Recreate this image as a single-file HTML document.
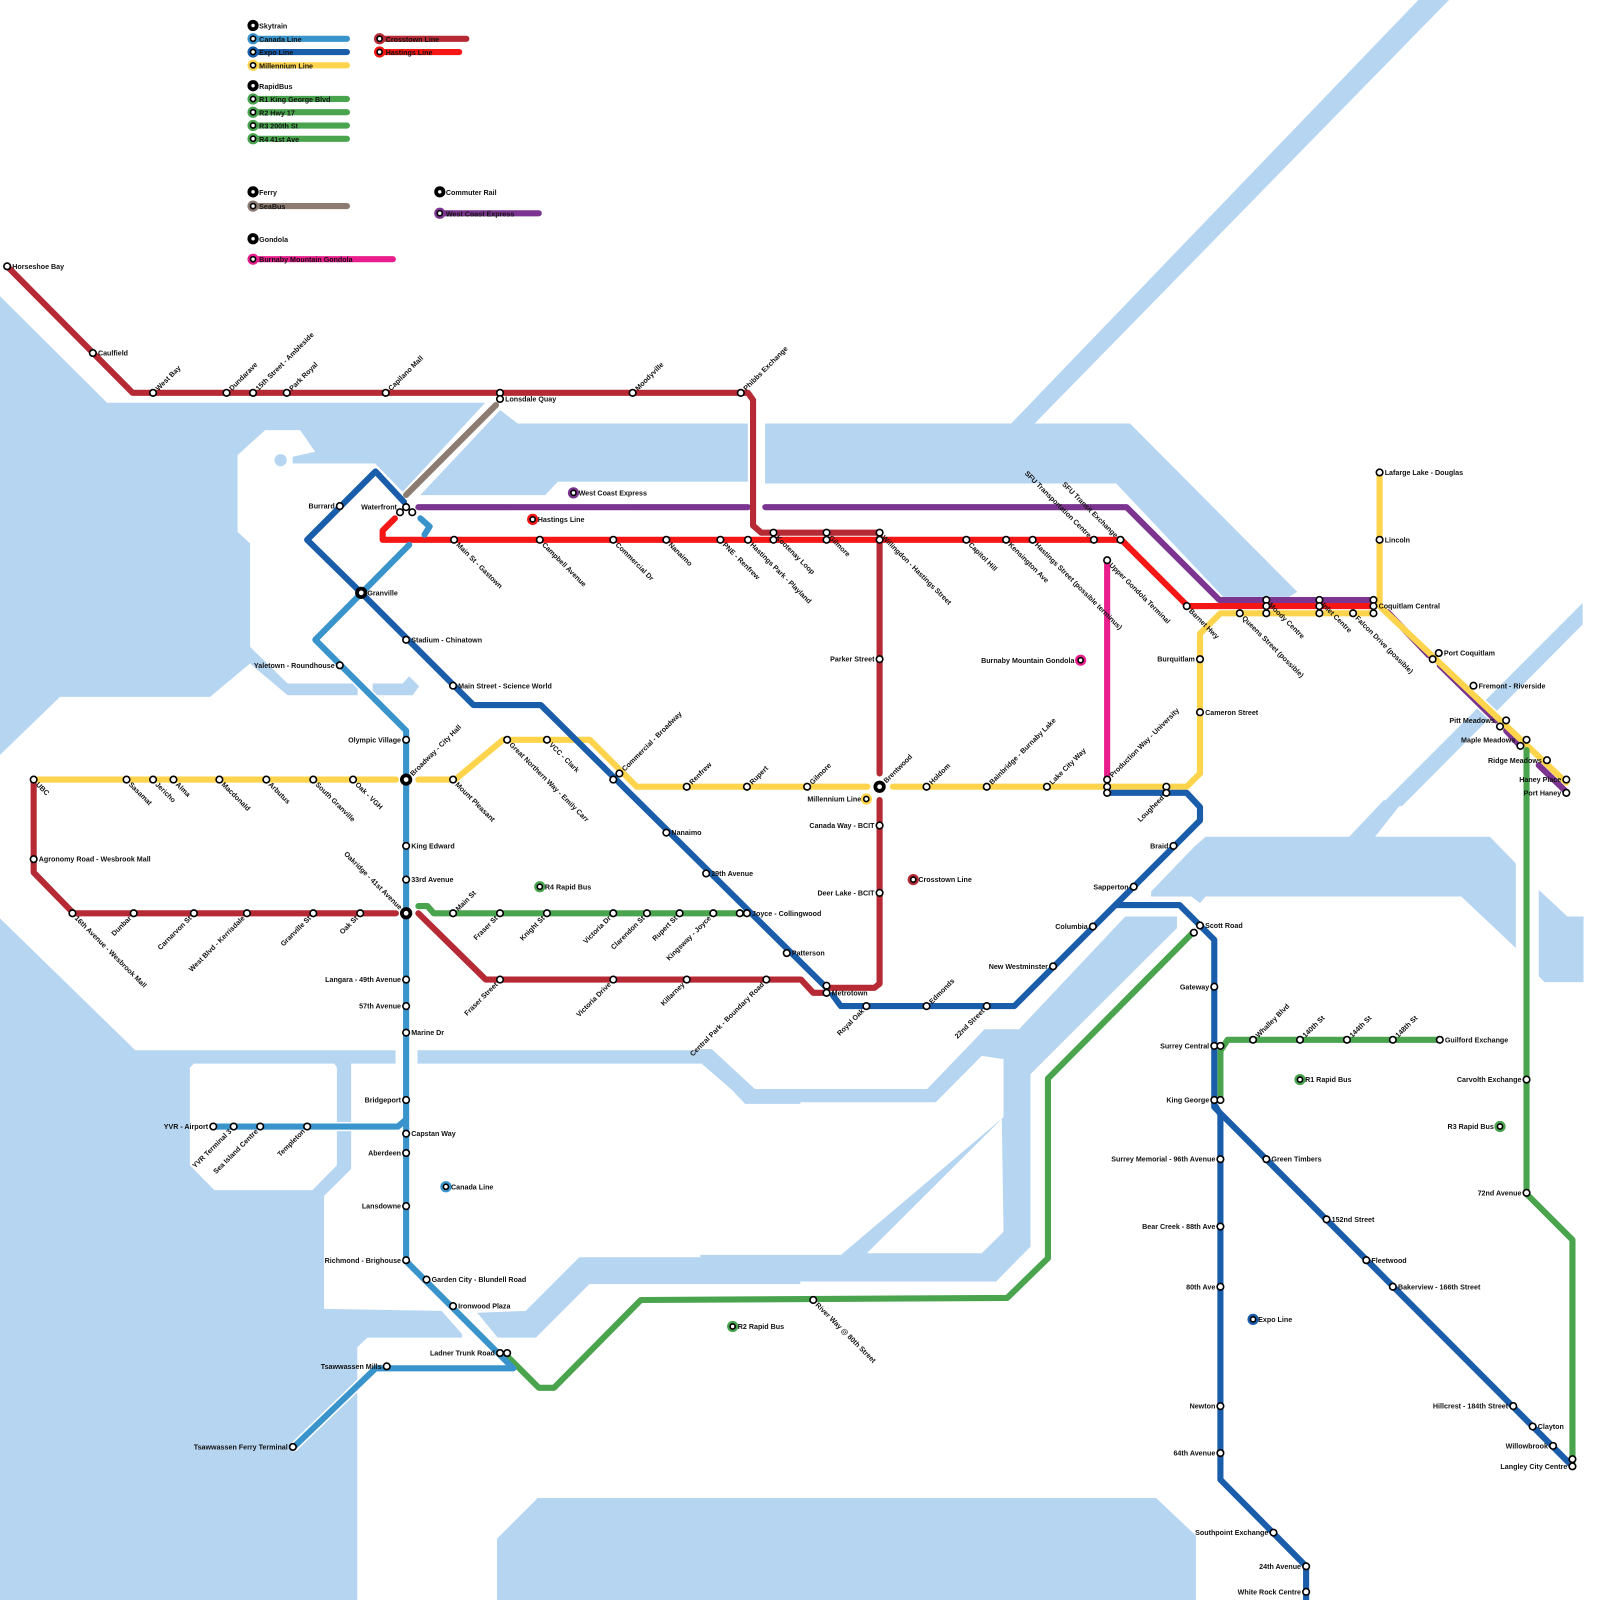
<!DOCTYPE html>
<html><head><meta charset="utf-8"><style>
html,body{margin:0;padding:0;background:#fff}
svg{display:block}
.w{fill:#b6d5f1}
.l{fill:#fff}
.s{fill:#fff;stroke:#000;stroke-width:1.6}
.t{font-family:"Liberation Sans",Arial,sans-serif;font-weight:bold;font-size:7px;fill:#111}
.k{fill:none;stroke:#fff;stroke-width:9;stroke-linejoin:round;stroke-linecap:round}
.ln{fill:none;stroke-width:6;stroke-linejoin:round;stroke-linecap:round}
</style></head><body>
<svg width="1600" height="1600" viewBox="0 0 1568 1568" xmlns="http://www.w3.org/2000/svg">
<!-- WATER -->
<g transform="translate(0,372.5) scale(0.4902,0.3268)">
<polygon class="w" points="0,-252 214,68 970,68 805,335 750,250 585,250 585,230 630,215 600,150 530,150 475,225 475,455 500,490 500,800 575,910 715,910 715,945 575,945 500,850 420,950 120,950 0,1124"/>
<polygon class="w" points="745,910 805,910 818,888 838,918 825,945 745,945"/>
<polygon class="w" points="1000,90 1035,130 1495,130 1495,305 1115,305 1090,345 840,345"/>
</g>
<circle class="w" cx="275" cy="451" r="6"/>
<g transform="translate(725.5,372.5) scale(0.5378,0.3268)">
<polygon class="w" points="45,130 710,130 1015,635 1000,650 880,650 685,310 45,310"/>
</g>
<polygon class="w" points="990,416 1390,0 1420,0 1013,416"/>
<polygon class="w" points="1551,591 1551,612 1374,790 1352,790"/>
<g transform="translate(686.3,784.3) scale(0.5628,0.3252)">
<polygon class="w" points="860,140 880,110 1130,110 1190,0 1225,0 1175,110 1375,110 1420,190 1420,445 1325,290 880,290 870,310 855,290 785,290 785,275"/>
<polygon class="w" points="1460,270 1510,350 1538,350 1538,548 1470,548 1460,530"/>
<polygon class="w" points="0,750 20,750 95,870 395,870 495,690 555,690 740,350 830,350 830,385 575,825 575,1345 515,1450 0,1450"/>
<polygon class="l" points="-30,790 0,790 80,910 410,910 490,770 528,780 528,955 245,1370 -30,1370"/>
<polygon class="l" points="290,1365 525,960 528,1300 490,1365"/>
</g>
<g transform="translate(0,980.4) scale(0.5002,0.3756)">
<polygon class="w" points="0,-214 265,130 775,130 775,165 688,165 688,440 635,510 635,805 865,810 905,870 905,880 720,880 700,905 700,1600 0,1600"/>
<polygon class="l" points="372,175 380,165 655,165 660,175 660,430 612,495 420,495 372,430"/>
<polygon class="w" points="818,130 1385,130 1475,235 1568,235 1568,270 1460,270 1385,165 818,165"/>
<polygon class="w" points="935,815 1030,810 1135,670 1568,670 1568,740 1155,740 1050,880 975,880"/>
</g>
<polygon class="w" points="527,1468 1133,1468 1172,1505 1172,1568 487,1568 487,1508"/>

<!-- LINES casing -->
<g class="k">
<path d="M398,485 L486,397"/>
<path d="M7,261 L130,385 L733,385 L738,392 L738,515 L746,522 L862,522 L862,758"/>
<path d="M396,492 L368,462 L301,529 L354,581 L464,691 L530,691 L810,968"/>
<path d="M401,534 L309,627 L398,716 L398,1236 L503,1341 L368,1341 L288,1418"/>
<path d="M209,1104 L390,1104 L398,1097"/>
<path d="M1169,914 L1027,1057 L1027,1233 L987,1272 L628,1274 L543,1360 L528,1360 L498,1330"/>
<path d="M1360,600 L1400,642 M1411,652 L1466,706 M1476,716 L1489,730 M1508,750 L1535,776"/>
<path d="M1352,463 L1352,594 L1535,767"/>
</g>
<!-- LINES -->
<path class="ln" stroke="#8b7b70" d="M398,485 L486,397"/>
<path class="ln" stroke="#e91e8c" d="M1085,549 L1085,764"/>
<g class="ln" stroke="#7b3590">
<path d="M410,497 L733,497"/>
<path d="M750,497 L1104,497 L1195,588 L1346,588"/>
<path d="M1360,600 L1400,642 M1411,652 L1466,706 M1476,716 L1489,730 M1508,750 L1535,776"/>
</g>
<g class="ln" stroke="#b52a35">
<path d="M7,261 L130,385 L733,385 L738,392 L738,515 L746,522 L862,522 L862,758"/>
<path d="M862,784 L862,964 L857,968 L814,968"/>
<path d="M33,764 L33,855 L72,895 L388,895"/>
<path d="M410,895 L476,960 L785,960 L797,973 L808,973"/>
</g>
<path class="ln" stroke="#f51616" d="M387,508 L375,520 L375,529 L1099,529 L1164,594 L1346,594"/>
<g class="ln" stroke="#fdd44c">
<path d="M33,764 L388,764"/>
<path d="M410,764 L446,764 L493,725 L578,725 L613,760 L624,771 L850,771"/>
<path d="M875,771 L1163,771 L1176,758 L1176,621 L1196,601 L1346,601"/>
<path d="M1352,463 L1352,594 L1535,767"/>
</g>
<g class="ln" stroke="#4aa44e">
<path d="M410,888 L419,888 L425,895 L732,895"/>
<path d="M1196,1074 L1196,1030 L1203,1019 L1411,1019"/>
<path d="M1169,914 L1027,1057 L1027,1233 L987,1272 L628,1274 L543,1360 L528,1360 L498,1330"/>
<path d="M1496,735 L1496,1170 L1541,1215 L1541,1433"/>
</g>
<g class="ln" stroke="#3a94cc">
<path d="M412,508 L421,516 L416,524"/>
<path d="M401,534 L309,627 L398,716 L398,1236 L503,1341 L368,1341 L288,1418"/>
<path d="M209,1104 L390,1104 L398,1097"/>
</g>
<g class="ln" stroke="#1a5daa">
<path d="M396,492 L368,462 L301,529 L354,581 L464,691 L530,691 L810,968"/>
<path d="M816,975 L824,986 L994,986 L1093,887 L1176,804 L1176,791 L1163,777 L1085,777"/>
<path d="M1093,887 L1156,887 L1176,907 L1190,921 L1190,1085 L1541,1437"/>
<path d="M1190,1082 L1196,1092 L1196,1450 L1280,1535 L1280,1568"/>
</g>

<!-- LEGEND -->
<g>
<rect x="248" y="35" width="95" height="6" rx="3" fill="#3a94cc"/>
<rect x="248" y="48" width="95" height="6" rx="3" fill="#1a5daa"/>
<rect x="248" y="61" width="95" height="6" rx="3" fill="#fdd44c"/>
<rect x="248" y="94" width="95" height="6" rx="3" fill="#4aa44e"/>
<rect x="248" y="107" width="95" height="6" rx="3" fill="#4aa44e"/>
<rect x="248" y="120" width="95" height="6" rx="3" fill="#4aa44e"/>
<rect x="248" y="133" width="95" height="6" rx="3" fill="#4aa44e"/>
<rect x="248" y="199" width="95" height="6" rx="3" fill="#8b7b70"/>
<rect x="248" y="251" width="140" height="6" rx="3" fill="#e91e8c"/>
<rect x="372" y="35" width="88" height="6" rx="3" fill="#b52a35"/>
<rect x="372" y="48" width="81" height="6" rx="3" fill="#f51616"/>
<rect x="431" y="206" width="100" height="6" rx="3" fill="#7b3590"/>
</g>
<g>
<circle cx="248" cy="25" r="5.5" fill="#000"/>
<circle cx="248" cy="84" r="5.5" fill="#000"/>
<circle cx="248" cy="188" r="5.5" fill="#000"/>
<circle cx="248" cy="234" r="5.5" fill="#000"/>
<circle cx="431" cy="188" r="5.5" fill="#000"/>
<circle cx="248" cy="38" r="5.5" fill="#3a94cc"/>
<circle cx="248" cy="51" r="5.5" fill="#1a5daa"/>
<circle cx="248" cy="64" r="5.5" fill="#fdd44c"/>
<circle cx="248" cy="97" r="5.5" fill="#4aa44e"/>
<circle cx="248" cy="110" r="5.5" fill="#4aa44e"/>
<circle cx="248" cy="123" r="5.5" fill="#4aa44e"/>
<circle cx="248" cy="136" r="5.5" fill="#4aa44e"/>
<circle cx="248" cy="202" r="5.5" fill="#8b7b70"/>
<circle cx="248" cy="254" r="5.5" fill="#e91e8c"/>
<circle cx="372" cy="38" r="5.5" fill="#b52a35"/>
<circle cx="372" cy="51" r="5.5" fill="#f51616"/>
<circle cx="431" cy="209" r="5.5" fill="#7b3590"/>
<circle cx="562" cy="483" r="5.5" fill="#7b3590"/>
<circle cx="522" cy="509" r="5.5" fill="#f51616"/>
<circle cx="895" cy="862" r="5.5" fill="#b52a35"/>
<circle cx="529" cy="869" r="5.5" fill="#4aa44e"/>
<circle cx="1274" cy="1058" r="5.5" fill="#4aa44e"/>
<circle cx="718" cy="1300" r="5.5" fill="#4aa44e"/>
<circle cx="1470" cy="1104" r="5.5" fill="#4aa44e"/>
<circle cx="437" cy="1163" r="5.5" fill="#3a94cc"/>
<circle cx="1228" cy="1293" r="5.5" fill="#1a5daa"/>
<circle cx="849" cy="783" r="5.5" fill="#fdd44c"/>
<circle cx="1059" cy="647" r="5.5" fill="#e91e8c"/>
</g>
<g class="s">
<circle cx="248" cy="25" r="2.5"/><circle cx="248" cy="84" r="2.5"/><circle cx="248" cy="188" r="2.5"/><circle cx="248" cy="234" r="2.5"/><circle cx="431" cy="188" r="2.5"/>
<circle cx="248" cy="38" r="2.5"/><circle cx="248" cy="51" r="2.5"/><circle cx="248" cy="64" r="2.5"/><circle cx="248" cy="97" r="2.5"/><circle cx="248" cy="110" r="2.5"/><circle cx="248" cy="123" r="2.5"/><circle cx="248" cy="136" r="2.5"/><circle cx="248" cy="202" r="2.5"/><circle cx="248" cy="254" r="2.5"/><circle cx="372" cy="38" r="2.5"/><circle cx="372" cy="51" r="2.5"/><circle cx="431" cy="209" r="2.5"/>
<circle cx="562" cy="483" r="2.5"/><circle cx="522" cy="509" r="2.5"/><circle cx="895" cy="862" r="2.5"/><circle cx="529" cy="869" r="2.5"/><circle cx="1274" cy="1058" r="2.5"/><circle cx="718" cy="1300" r="2.5"/><circle cx="1470" cy="1104" r="2.5"/><circle cx="437" cy="1163" r="2.5"/><circle cx="1228" cy="1293" r="2.5"/><circle cx="849" cy="783" r="2.5"/><circle cx="1059" cy="647" r="2.5"/>
</g>
<g class="t">
<text x="254" y="28">Skytrain</text>
<text x="254" y="41">Canada Line</text>
<text x="254" y="54">Expo Line</text>
<text x="254" y="67">Millennium Line</text>
<text x="254" y="87">RapidBus</text>
<text x="254" y="100">R1 King George Blvd</text>
<text x="254" y="113">R2 Hwy 17</text>
<text x="254" y="126">R3 200th St</text>
<text x="254" y="139">R4 41st Ave</text>
<text x="254" y="191">Ferry</text>
<text x="254" y="205">SeaBus</text>
<text x="254" y="237">Gondola</text>
<text x="254" y="257">Burnaby Mountain Gondola</text>
<text x="378" y="41">Crosstown Line</text>
<text x="378" y="54">Hastings Line</text>
<text x="437" y="191">Commuter Rail</text>
<text x="437" y="212">West Coast Express</text>
</g>

<!-- STATIONS -->
<g class="s">
<circle cx="7" cy="261" r="3.2"/><circle cx="91" cy="346" r="3.2"/><circle cx="150" cy="385" r="3.2"/><circle cx="222" cy="385" r="3.2"/><circle cx="248" cy="385" r="3.2"/><circle cx="281" cy="385" r="3.2"/><circle cx="378" cy="385" r="3.2"/><circle cx="490" cy="385" r="3.2"/><circle cx="490" cy="391" r="3.2"/><circle cx="620" cy="385" r="3.2"/><circle cx="726" cy="385" r="3.2"/>
<circle cx="758" cy="522" r="3.2"/><circle cx="758" cy="529" r="3.2"/><circle cx="810" cy="522" r="3.2"/><circle cx="810" cy="529" r="3.2"/><circle cx="862" cy="522" r="3.2"/><circle cx="862" cy="529" r="3.2"/>
<circle cx="862" cy="646" r="3.2"/><circle cx="862" cy="809" r="3.2"/><circle cx="862" cy="875" r="3.2"/><circle cx="810" cy="966" r="3.2"/><circle cx="810" cy="973" r="3.2"/>
<circle cx="33" cy="764" r="3.2"/><circle cx="33" cy="842" r="3.2"/><circle cx="71" cy="895" r="3.2"/><circle cx="131" cy="895" r="3.2"/><circle cx="190" cy="895" r="3.2"/><circle cx="242" cy="895" r="3.2"/><circle cx="307" cy="895" r="3.2"/><circle cx="353" cy="895" r="3.2"/>
<circle cx="490" cy="960" r="3.2"/><circle cx="601" cy="960" r="3.2"/><circle cx="673" cy="960" r="3.2"/><circle cx="751" cy="960" r="3.2"/>
<circle cx="398" cy="497" r="3.2"/><circle cx="392" cy="502" r="3.2"/><circle cx="404" cy="502" r="3.2"/><circle cx="333" cy="496" r="3.2"/>
<circle cx="445" cy="529" r="3.2"/><circle cx="529" cy="529" r="3.2"/><circle cx="601" cy="529" r="3.2"/><circle cx="653" cy="529" r="3.2"/><circle cx="706" cy="529" r="3.2"/><circle cx="733" cy="529" r="3.2"/><circle cx="947" cy="529" r="3.2"/><circle cx="986" cy="529" r="3.2"/><circle cx="1012" cy="529" r="3.2"/><circle cx="1072" cy="529" r="3.2"/><circle cx="1098" cy="529" r="3.2"/><circle cx="1163" cy="594" r="3.2"/>
<circle cx="1241" cy="588" r="3.2"/><circle cx="1241" cy="594" r="3.2"/><circle cx="1241" cy="601" r="3.2"/><circle cx="1293" cy="588" r="3.2"/><circle cx="1293" cy="594" r="3.2"/><circle cx="1293" cy="601" r="3.2"/><circle cx="1346" cy="588" r="3.2"/><circle cx="1346" cy="594" r="3.2"/><circle cx="1346" cy="601" r="3.2"/><circle cx="1215" cy="601" r="3.2"/><circle cx="1326" cy="601" r="3.2"/>
<circle cx="1352" cy="463" r="3.2"/><circle cx="1352" cy="529" r="3.2"/><circle cx="1410" cy="640" r="3.2"/><circle cx="1404" cy="646" r="3.2"/><circle cx="1444" cy="672" r="3.2"/><circle cx="1476" cy="706" r="3.2"/><circle cx="1470" cy="712" r="3.2"/><circle cx="1496" cy="725" r="3.2"/><circle cx="1490" cy="731" r="3.2"/><circle cx="1516" cy="745" r="3.2"/><circle cx="1535" cy="764" r="3.2"/><circle cx="1535" cy="777" r="3.2"/>
<circle cx="1176" cy="646" r="3.2"/><circle cx="1176" cy="698" r="3.2"/><circle cx="1085" cy="549" r="3.2"/>
<circle cx="124" cy="764" r="3.2"/><circle cx="150" cy="764" r="3.2"/><circle cx="170" cy="764" r="3.2"/><circle cx="215" cy="764" r="3.2"/><circle cx="261" cy="764" r="3.2"/><circle cx="307" cy="764" r="3.2"/><circle cx="346" cy="764" r="3.2"/><circle cx="444" cy="764" r="3.2"/><circle cx="497" cy="725" r="3.2"/><circle cx="536" cy="725" r="3.2"/><circle cx="601" cy="764" r="3.2"/><circle cx="607" cy="758" r="3.2"/>
<circle cx="673" cy="771" r="3.2"/><circle cx="732" cy="771" r="3.2"/><circle cx="791" cy="771" r="3.2"/><circle cx="908" cy="771" r="3.2"/><circle cx="967" cy="771" r="3.2"/><circle cx="1026" cy="771" r="3.2"/><circle cx="1085" cy="764" r="3.2"/><circle cx="1085" cy="771" r="3.2"/><circle cx="1085" cy="777" r="3.2"/><circle cx="1143" cy="771" r="3.2"/><circle cx="1143" cy="777" r="3.2"/>
<circle cx="398" cy="627" r="3.2"/><circle cx="444" cy="672" r="3.2"/><circle cx="653" cy="816" r="3.2"/><circle cx="692" cy="856" r="3.2"/><circle cx="725" cy="895" r="3.2"/><circle cx="732" cy="895" r="3.2"/><circle cx="771" cy="934" r="3.2"/>
<circle cx="849" cy="986" r="3.2"/><circle cx="908" cy="986" r="3.2"/><circle cx="967" cy="986" r="3.2"/><circle cx="1032" cy="947" r="3.2"/><circle cx="1071" cy="908" r="3.2"/><circle cx="1111" cy="869" r="3.2"/><circle cx="1150" cy="829" r="3.2"/>
<circle cx="1176" cy="907" r="3.2"/><circle cx="1170" cy="914" r="3.2"/><circle cx="1190" cy="967" r="3.2"/><circle cx="1190" cy="1025" r="3.2"/><circle cx="1196" cy="1025" r="3.2"/><circle cx="1190" cy="1078" r="3.2"/><circle cx="1196" cy="1078" r="3.2"/>
<circle cx="1196" cy="1136" r="3.2"/><circle cx="1196" cy="1202" r="3.2"/><circle cx="1196" cy="1261" r="3.2"/><circle cx="1196" cy="1378" r="3.2"/><circle cx="1196" cy="1424" r="3.2"/><circle cx="1248" cy="1502" r="3.2"/><circle cx="1280" cy="1535" r="3.2"/><circle cx="1280" cy="1560" r="3.2"/>
<circle cx="1241" cy="1136" r="3.2"/><circle cx="1300" cy="1195" r="3.2"/><circle cx="1339" cy="1235" r="3.2"/><circle cx="1365" cy="1261" r="3.2"/><circle cx="1483" cy="1378" r="3.2"/><circle cx="1502" cy="1398" r="3.2"/><circle cx="1522" cy="1417" r="3.2"/><circle cx="1541" cy="1437" r="3.2"/><circle cx="1541" cy="1430" r="3.2"/>
<circle cx="1228" cy="1019" r="3.2"/><circle cx="1274" cy="1019" r="3.2"/><circle cx="1320" cy="1019" r="3.2"/><circle cx="1365" cy="1019" r="3.2"/><circle cx="1411" cy="1019" r="3.2"/><circle cx="1496" cy="1058" r="3.2"/><circle cx="1496" cy="1169" r="3.2"/>
<circle cx="444" cy="895" r="3.2"/><circle cx="490" cy="895" r="3.2"/><circle cx="536" cy="895" r="3.2"/><circle cx="601" cy="895" r="3.2"/><circle cx="634" cy="895" r="3.2"/><circle cx="666" cy="895" r="3.2"/><circle cx="699" cy="895" r="3.2"/>
<circle cx="333" cy="652" r="3.2"/><circle cx="398" cy="725" r="3.2"/><circle cx="398" cy="829" r="3.2"/><circle cx="398" cy="862" r="3.2"/><circle cx="398" cy="960" r="3.2"/><circle cx="398" cy="986" r="3.2"/><circle cx="398" cy="1012" r="3.2"/><circle cx="398" cy="1078" r="3.2"/><circle cx="398" cy="1111" r="3.2"/><circle cx="398" cy="1130" r="3.2"/><circle cx="398" cy="1182" r="3.2"/><circle cx="398" cy="1235" r="3.2"/><circle cx="418" cy="1254" r="3.2"/><circle cx="444" cy="1280" r="3.2"/><circle cx="490" cy="1326" r="3.2"/><circle cx="497" cy="1326" r="3.2"/><circle cx="379" cy="1339" r="3.2"/><circle cx="287" cy="1418" r="3.2"/>
<circle cx="209" cy="1104" r="3.2"/><circle cx="229" cy="1104" r="3.2"/><circle cx="255" cy="1104" r="3.2"/><circle cx="301" cy="1104" r="3.2"/><circle cx="797" cy="1274" r="3.2"/>
</g>
<g>
<circle cx="354" cy="581" r="6" fill="#000"/><circle cx="398" cy="764" r="6" fill="#000"/><circle cx="398" cy="895" r="6" fill="#000"/><circle cx="862" cy="771" r="6" fill="#000"/>
<circle cx="354" cy="581" r="2.3" fill="#fff"/><circle cx="398" cy="764" r="2.3" fill="#fff"/><circle cx="398" cy="895" r="2.3" fill="#fff"/><circle cx="862" cy="771" r="2.3" fill="#fff"/>
</g>

<!-- LABELS right -->
<g class="t">
<text x="12" y="263.5">Horseshoe Bay</text>
<text x="96" y="348.5">Caulfield</text>
<text x="495" y="393.5">Lonsdale Quay</text>
<text x="403" y="629.5">Stadium - Chinatown</text>
<text x="449" y="674.5">Main Street - Science World</text>
<text x="360" y="583.5">Granville</text>
<text x="737" y="897.5">Joyce - Collingwood</text>
<text x="776" y="936.5">Patterson</text>
<text x="815" y="975.5">Metrotown</text>
<text x="1181" y="909.5">Scott Road</text>
<text x="1357" y="465.5">Lafarge Lake - Douglas</text>
<text x="1357" y="531.5">Lincoln</text>
<text x="1351" y="596.5">Coquitlam Central</text>
<text x="1415" y="642.5">Port Coquitlam</text>
<text x="1449" y="674.5">Fremont - Riverside</text>
<text x="1416" y="1021.5">Guilford Exchange</text>
<text x="1246" y="1138.5">Green Timbers</text>
<text x="1305" y="1197.5">152nd Street</text>
<text x="1344" y="1237.5">Fleetwood</text>
<text x="1370" y="1263.5">Bakerview - 166th Street</text>
<text x="1507" y="1400.5">Clayton</text>
<text x="403" y="831.5">King Edward</text>
<text x="403" y="864.5">33rd Avenue</text>
<text x="403" y="1014.5">Marine Dr</text>
<text x="403" y="1113.5">Capstan Way</text>
<text x="423" y="1256.5">Garden City - Blundell Road</text>
<text x="449" y="1282.5">Ironwood Plaza</text>
<text x="38" y="844.5">Agronomy Road - Wesbrook Mall</text>
<text x="1181" y="700.5">Cameron Street</text>
<text x="658" y="818.5">Nanaimo</text>
<text x="697" y="858.5">29th Avenue</text>
<text x="567" y="485.5">West Coast Express</text>
<text x="527" y="511.5">Hastings Line</text>
<text x="900" y="864.5">Crosstown Line</text>
<text x="534" y="871.5">R4 Rapid Bus</text>
<text x="1279" y="1060.5">R1 Rapid Bus</text>
<text x="723" y="1302.5">R2 Rapid Bus</text>
<text x="442" y="1165.5">Canada Line</text>
<text x="1233" y="1295.5">Expo Line</text>
</g>
<!-- LABELS left -->
<g class="t" text-anchor="end">
<text x="328" y="498.5">Burrard</text>
<text x="389" y="499.5">Waterfront</text>
<text x="328" y="654.5">Yaletown - Roundhouse</text>
<text x="393" y="727.5">Olympic Village</text>
<text x="393" y="962.5">Langara - 49th Avenue</text>
<text x="393" y="988.5">57th Avenue</text>
<text x="393" y="1080.5">Bridgeport</text>
<text x="393" y="1132.5">Aberdeen</text>
<text x="393" y="1184.5">Lansdowne</text>
<text x="393" y="1237.5">Richmond - Brighouse</text>
<text x="204" y="1106.5">YVR - Airport</text>
<text x="485" y="1328.5">Ladner Trunk Road</text>
<text x="374" y="1341.5">Tsawwassen Mills</text>
<text x="282" y="1420.5">Tsawwassen Ferry Terminal</text>
<text x="857" y="648.5">Parker Street</text>
<text x="857" y="811.5">Canada Way - BCIT</text>
<text x="857" y="877.5">Deer Lake - BCIT</text>
<text x="844" y="785.5">Millennium Line</text>
<text x="1053" y="649.5">Burnaby Mountain Gondola</text>
<text x="1171" y="648.5">Burquitlam</text>
<text x="1145" y="831.5">Braid</text>
<text x="1106" y="871.5">Sapperton</text>
<text x="1066" y="910.5">Columbia</text>
<text x="1027" y="949.5">New Westminster</text>
<text x="1185" y="969.5">Gateway</text>
<text x="1185" y="1027.5">Surrey Central</text>
<text x="1185" y="1080.5">King George</text>
<text x="1191" y="1138.5">Surrey Memorial - 96th Avenue</text>
<text x="1191" y="1204.5">Bear Creek - 88th Ave</text>
<text x="1191" y="1263.5">80th Ave</text>
<text x="1191" y="1380.5">Newton</text>
<text x="1191" y="1426.5">64th Avenue</text>
<text x="1243" y="1504.5">Southpoint Exchange</text>
<text x="1275" y="1537.5">24th Avenue</text>
<text x="1275" y="1562.5">White Rock Centre</text>
<text x="1478" y="1380.5">Hillcrest - 184th Street</text>
<text x="1517" y="1419.5">Willowbrook</text>
<text x="1536" y="1439.5">Langley City Centre</text>
<text x="1491" y="1060.5">Carvolth Exchange</text>
<text x="1491" y="1171.5">72nd Avenue</text>
<text x="1464" y="1106.5">R3 Rapid Bus</text>
<text x="1465" y="708.5">Pitt Meadows</text>
<text x="1485" y="727.5">Maple Meadows</text>
<text x="1511" y="747.5">Ridge Meadows</text>
<text x="1530" y="766.5">Haney Place</text>
<text x="1530" y="779.5">Port Haney</text>
</g>
<!-- rotated -45 start -->
<g class="t">
<text transform="translate(150,385) rotate(-45)" x="5" y="2.5">West Bay</text>
<text transform="translate(222,385) rotate(-45)" x="5" y="2.5">Dundarave</text>
<text transform="translate(248,385) rotate(-45)" x="5" y="2.5">15th Street - Ambleside</text>
<text transform="translate(281,385) rotate(-45)" x="5" y="2.5">Park Royal</text>
<text transform="translate(378,385) rotate(-45)" x="5" y="2.5">Capilano Mall</text>
<text transform="translate(620,385) rotate(-45)" x="5" y="2.5">Moodyville</text>
<text transform="translate(726,385) rotate(-45)" x="5" y="2.5">Phibbs Exchange</text>
<text transform="translate(398,764) rotate(-45)" x="7" y="2.5">Broadway - City Hall</text>
<text transform="translate(607,758) rotate(-45)" x="5" y="2.5">Commercial - Broadway</text>
<text transform="translate(673,771) rotate(-45)" x="5" y="2.5">Renfrew</text>
<text transform="translate(732,771) rotate(-45)" x="5" y="2.5">Rupert</text>
<text transform="translate(791,771) rotate(-45)" x="5" y="2.5">Gilmore</text>
<text transform="translate(862,771) rotate(-45)" x="7" y="2.5">Brentwood</text>
<text transform="translate(908,771) rotate(-45)" x="5" y="2.5">Holdom</text>
<text transform="translate(967,771) rotate(-45)" x="5" y="2.5">Bainbridge - Burnaby Lake</text>
<text transform="translate(1026,771) rotate(-45)" x="5" y="2.5">Lake City Way</text>
<text transform="translate(1085,764) rotate(-45)" x="5" y="2.5">Production Way - University</text>
<text transform="translate(444,895) rotate(-45)" x="5" y="2.5">Main St</text>
<text transform="translate(908,986) rotate(-45)" x="5" y="2.5">Edmonds</text>
<text transform="translate(1228,1019) rotate(-45)" x="5" y="2.5">Whalley Blvd</text>
<text transform="translate(1274,1019) rotate(-45)" x="5" y="2.5">140th St</text>
<text transform="translate(1320,1019) rotate(-45)" x="5" y="2.5">144th St</text>
<text transform="translate(1365,1019) rotate(-45)" x="5" y="2.5">148th St</text>
</g>
<!-- rotated -45 end -->
<g class="t" text-anchor="end">
<text transform="translate(131,895) rotate(-45)" x="-5" y="2.5">Dunbar</text>
<text transform="translate(190,895) rotate(-45)" x="-5" y="2.5">Carnarvon St</text>
<text transform="translate(242,895) rotate(-45)" x="-5" y="2.5">West Blvd - Kerrisdale</text>
<text transform="translate(307,895) rotate(-45)" x="-5" y="2.5">Granville St</text>
<text transform="translate(353,895) rotate(-45)" x="-5" y="2.5">Oak St</text>
<text transform="translate(490,895) rotate(-45)" x="-5" y="2.5">Fraser St</text>
<text transform="translate(536,895) rotate(-45)" x="-5" y="2.5">Knight St</text>
<text transform="translate(601,895) rotate(-45)" x="-5" y="2.5">Victoria Dr</text>
<text transform="translate(634,895) rotate(-45)" x="-5" y="2.5">Clarendon St</text>
<text transform="translate(666,895) rotate(-45)" x="-5" y="2.5">Rupert St</text>
<text transform="translate(699,895) rotate(-45)" x="-5" y="2.5">Kingsway - Joyce</text>
<text transform="translate(490,960) rotate(-45)" x="-5" y="2.5">Fraser Street</text>
<text transform="translate(601,960) rotate(-45)" x="-5" y="2.5">Victoria Drive</text>
<text transform="translate(673,960) rotate(-45)" x="-5" y="2.5">Killarney</text>
<text transform="translate(751,960) rotate(-45)" x="-5" y="2.5">Central Park - Boundary Road</text>
<text transform="translate(849,986) rotate(-45)" x="-5" y="2.5">Royal Oak</text>
<text transform="translate(967,986) rotate(-45)" x="-5" y="2.5">22nd Street</text>
<text transform="translate(229,1104) rotate(-45)" x="-5" y="2.5">YVR Terminal 3</text>
<text transform="translate(255,1104) rotate(-45)" x="-5" y="2.5">Sea Island Centre</text>
<text transform="translate(301,1104) rotate(-45)" x="-5" y="2.5">Templeton</text>
<text transform="translate(1143,777) rotate(-45)" x="-5" y="2.5">Lougheed</text>
</g>
<!-- rotated +45 start -->
<g class="t">
<text transform="translate(33,764) rotate(45)" x="5" y="2.5">UBC</text>
<text transform="translate(124,764) rotate(45)" x="5" y="2.5">Sasamat</text>
<text transform="translate(150,764) rotate(45)" x="5" y="2.5">Jericho</text>
<text transform="translate(170,764) rotate(45)" x="5" y="2.5">Alma</text>
<text transform="translate(215,764) rotate(45)" x="5" y="2.5">Macdonald</text>
<text transform="translate(261,764) rotate(45)" x="5" y="2.5">Arbutus</text>
<text transform="translate(307,764) rotate(45)" x="5" y="2.5">South Granville</text>
<text transform="translate(346,764) rotate(45)" x="5" y="2.5">Oak - VGH</text>
<text transform="translate(444,764) rotate(45)" x="5" y="2.5">Mount Pleasant</text>
<text transform="translate(497,725) rotate(45)" x="5" y="2.5">Great Northern Way - Emily Carr</text>
<text transform="translate(536,725) rotate(45)" x="5" y="2.5">VCC - Clark</text>
<text transform="translate(445,529) rotate(45)" x="5" y="2.5">Main St - Gastown</text>
<text transform="translate(529,529) rotate(45)" x="5" y="2.5">Campbell Avenue</text>
<text transform="translate(601,529) rotate(45)" x="5" y="2.5">Commercial Dr</text>
<text transform="translate(653,529) rotate(45)" x="5" y="2.5">Nanaimo</text>
<text transform="translate(706,529) rotate(45)" x="5" y="2.5">PNE - Renfrew</text>
<text transform="translate(733,529) rotate(45)" x="5" y="2.5">Hastings Park - Playland</text>
<text transform="translate(758,522) rotate(45)" x="5" y="2.5">Kootenay Loop</text>
<text transform="translate(810,522) rotate(45)" x="5" y="2.5">Gilmore</text>
<text transform="translate(862,522) rotate(45)" x="5" y="2.5">Willingdon - Hastings Street</text>
<text transform="translate(947,529) rotate(45)" x="5" y="2.5">Capitol Hill</text>
<text transform="translate(986,529) rotate(45)" x="5" y="2.5">Kensington Ave</text>
<text transform="translate(1012,529) rotate(45)" x="5" y="2.5">Hastings Street (possible terminus)</text>
<text transform="translate(1085,549) rotate(45)" x="5" y="2.5">Upper Gondola Terminal</text>
<text transform="translate(1163,594) rotate(45)" x="5" y="2.5">Barnet Hwy</text>
<text transform="translate(1215,601) rotate(45)" x="5" y="2.5">Queens Street (possible)</text>
<text transform="translate(1241,588) rotate(45)" x="5" y="2.5">Moody Centre</text>
<text transform="translate(1293,588) rotate(45)" x="5" y="2.5">Inlet Centre</text>
<text transform="translate(1326,601) rotate(45)" x="5" y="2.5">Falcon Drive (possible)</text>
<text transform="translate(71,895) rotate(45)" x="5" y="2.5">16th Avenue - Wesbrook Mall</text>
<text transform="translate(797,1274) rotate(45)" x="5" y="2.5">River Way @ 80th Street</text>
</g>
<!-- rotated +45 end -->
<g class="t" text-anchor="end">
<text transform="translate(398,895) rotate(45)" x="-7" y="2.5">Oakridge - 41st Avenue</text>
<text transform="translate(1072,529) rotate(45)" x="-5" y="2.5">SFU Transportation Centre</text>
<text transform="translate(1098,529) rotate(45)" x="-5" y="2.5">SFU Transit Exchange</text>
</g>
</svg>
</body></html>
